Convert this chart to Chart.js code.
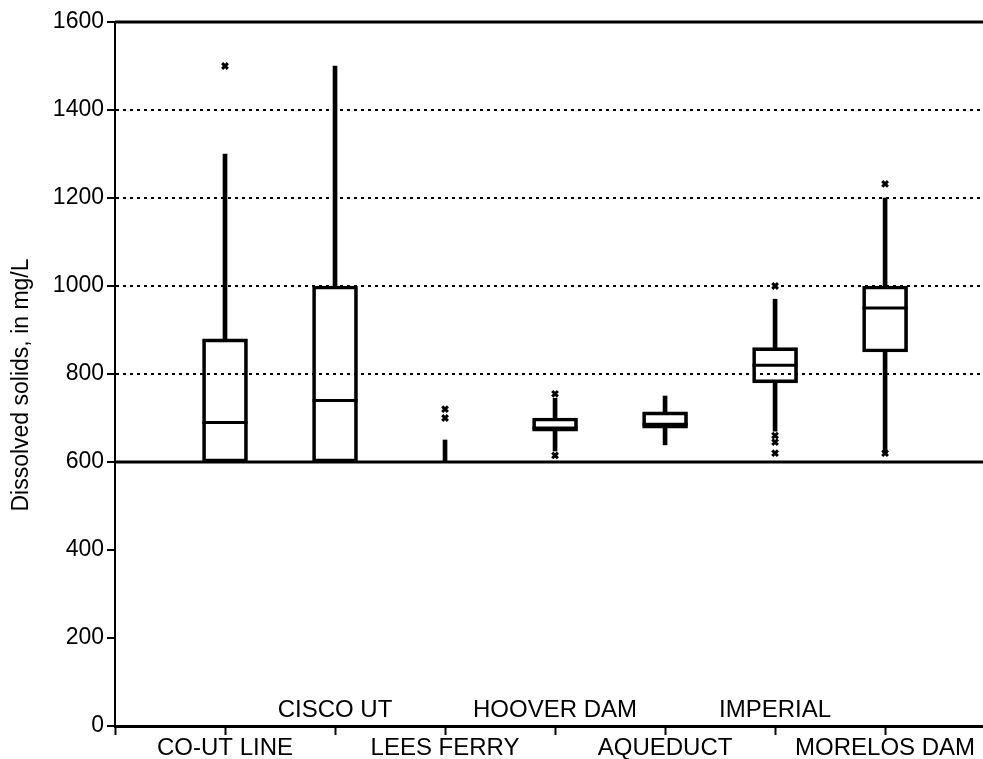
<!DOCTYPE html>
<html><head><meta charset="utf-8">
<script src="https://cdn.jsdelivr.net/npm/chart.js@4"></script>
<style>html,body{margin:0;padding:0;background:#fff;overflow:hidden;}canvas{display:block;}</style>
</head><body><canvas id="c" width="983" height="759" style="width:983px;height:759px;"></canvas>
<script>
// ---- data ----
const categories = ['CO-UT LINE','CISCO UT','LEES FERRY','HOOVER DAM','AQUEDUCT','IMPERIAL','MORELOS DAM'];
const cutoff = 600;                 // nothing is shown below the 600 mg/L line
const boxLow      = [600, 600, null, 670, 677, 780, 850];   // visible lower box edge
const boxHigh     = [880, 1000, null, 700, 714, 860, 1000];
const medians     = [690, 740, null, 677, 686, 820, 950];
const whiskerHigh = [1300, 1500, 650, 745, 750, 970, 1200];
const whiskerLow  = [null, null, null, 625, 639, 670, 620];
const outlierCat  = [0, 2, 2, 3, 3, 5, 5, 5, 5, 6, 6];
const outlierVal  = [1500, 700, 720, 755, 615, 1000, 660, 645, 620, 1232, 620];
const yTickValues = [0, 200, 400, 600, 800, 1000, 1200, 1400, 1600];
const dottedLines = [800, 1000, 1200, 1400];
const solidLines  = [600, 1600];
const yTitle = 'Dissolved solids, in mg/L';

// ---- derived datasets ----
const idx = categories.map((c, i) => i);
const boxData = idx.filter(i => boxHigh[i] != null).map(i => ({x: i, y: [boxLow[i], boxHigh[i]]}));
const upperWhisker = idx.filter(i => whiskerHigh[i] != null).map(i => ({x: i, y: [boxHigh[i] != null ? boxHigh[i] : cutoff, whiskerHigh[i]]}));
const lowerWhisker = idx.filter(i => whiskerLow[i] != null).map(i => ({x: i, y: [whiskerLow[i], boxLow[i]]}));
const medianData = idx.filter(i => medians[i] != null).map(i => ({x: i, y: medians[i]}));
const outlierData = outlierCat.map((c, k) => ({x: c, y: outlierVal[k]}));

const FONT = "'Liberation Sans', Arial, Helvetica, sans-serif";

const extras = {
  id: 'extras',
  beforeDatasetsDraw(chart) {
    const {ctx, chartArea, scales: {y}} = chart;
    ctx.save();
    ctx.strokeStyle = '#000';
    ctx.lineWidth = 3;
    solidLines.forEach(v => {
      const py = y.getPixelForValue(v);
      ctx.beginPath(); ctx.moveTo(chartArea.left, py); ctx.lineTo(chartArea.right, py); ctx.stroke();
    });
    ctx.restore();
  },
  afterDraw(chart) {
    const {ctx, chartArea, scales: {x}} = chart;
    ctx.save();
    ctx.fillStyle = '#000';
    ctx.font = '24px ' + FONT;
    ctx.textAlign = 'center';
    ctx.textBaseline = 'middle';
    categories.forEach((c, i) => {
      if (i % 2 === 1) ctx.fillText(c, x.getPixelForValue(i), chartArea.bottom - 16);
    });
    ctx.font = '23px ' + FONT;
    ctx.translate(22, (chartArea.top + chartArea.bottom) / 2 + 11);
    ctx.rotate(-Math.PI / 2);
    ctx.fillText(yTitle, 0, 0);
    ctx.restore();
  }
};

new Chart(document.getElementById('c'), {
  type: 'bar',
  data: {
    datasets: [
      {type: 'bar', data: boxData, backgroundColor: 'rgba(0,0,0,0)', borderColor: '#000', borderWidth: 3, borderSkipped: false, barThickness: 45, grouped: false, order: 3},
      {type: 'bar', data: upperWhisker, backgroundColor: '#000', borderWidth: 0, barThickness: 4, grouped: false, order: 4},
      {type: 'bar', data: lowerWhisker, backgroundColor: '#000', borderWidth: 0, barThickness: 4, grouped: false, order: 4},
      {type: 'scatter', data: medianData, pointStyle: 'line', radius: 22.5, borderColor: '#000', borderWidth: 3, order: 2},
      {type: 'scatter', data: outlierData, pointStyle: 'crossRot', radius: 4, borderColor: '#000', borderWidth: 3, order: 1}
    ]
  },
  options: {
    responsive: false,
    maintainAspectRatio: false,
    animation: false,
    events: [],
    layout: {autoPadding: false, padding: {top: 22, right: 0, left: 0, bottom: 0}},
    plugins: {legend: {display: false}, tooltip: {enabled: false}},
    scales: {
      x: {
        type: 'linear', min: -1, max: 6.89, offset: false,
        afterBuildTicks: s => { s.ticks = [-1].concat(idx).map(v => ({value: v})); },
        afterFit: s => { s.height = 33; s.paddingLeft = 0; s.paddingRight = 0; },
        grid: {offset: false, drawOnChartArea: false, drawTicks: true, tickLength: 9, tickColor: '#000', tickWidth: 2, color: '#000'},
        border: {color: '#000', width: 3},
        ticks: {
          autoSkip: false, maxRotation: 0, padding: -1, color: '#000',
          font: {family: FONT, size: 24},
          callback: v => (v >= 0 && v % 2 === 0) ? categories[v] : ''
        }
      },
      y: {
        min: 0, max: 1600,
        afterBuildTicks: s => { s.ticks = yTickValues.map(v => ({value: v})); },
        afterFit: s => { s.width = 115; s.paddingTop = 0; s.paddingBottom = 0; },
        grid: {
          color: c => (c.tick && dottedLines.includes(c.tick.value)) ? '#000' : 'rgba(0,0,0,0)',
          lineWidth: 2, tickLength: 8, tickColor: '#000', tickWidth: 2
        },
        border: {color: '#000', width: 2, dash: [3, 4]},
        ticks: {padding: 3, color: '#000', font: {family: FONT, size: 23}, callback: v => String(v)}
      }
    }
  },
  plugins: [extras]
});
</script></body></html>
